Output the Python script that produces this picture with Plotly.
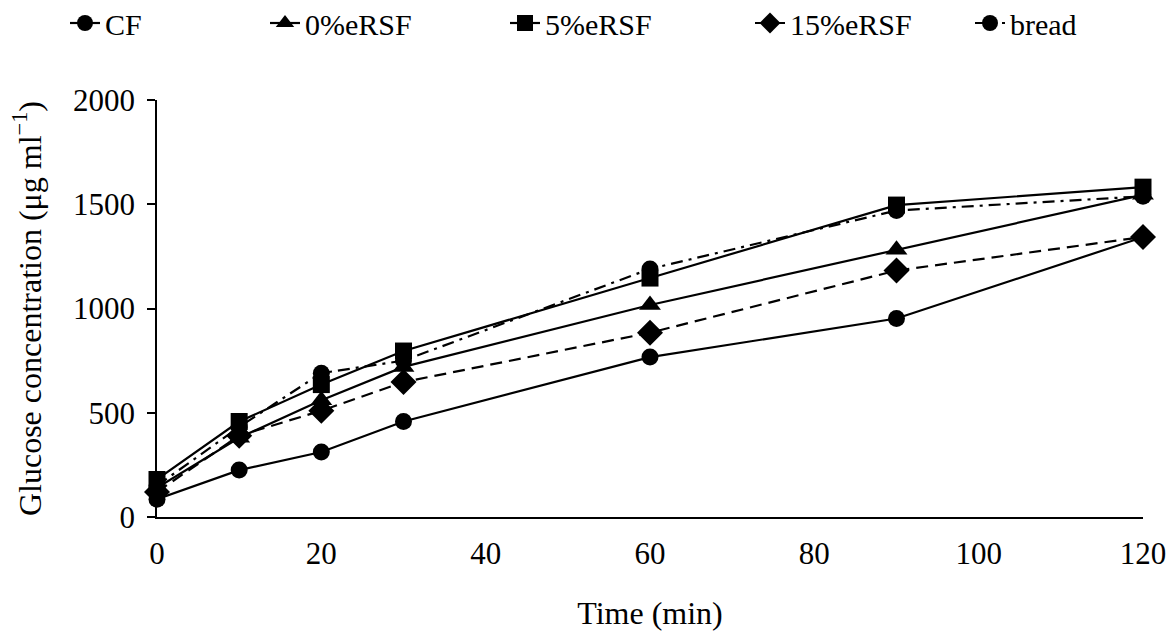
import plotly.graph_objects as go

time_min = [0, 10, 20, 30, 60, 90, 120]
cf = [85, 225, 312, 458, 767, 952, 1342]
ersf0 = [140, 380, 560, 720, 1017, 1282, 1545]
ersf5 = [180, 458, 635, 796, 1146, 1496, 1582]
ersf15 = [120, 390, 510, 647, 884, 1182, 1343]
bread = [150, 432, 690, 750, 1190, 1470, 1538]

x_ticks = [0, 20, 40, 60, 80, 100, 120]
y_ticks = [0, 500, 1000, 1500, 2000]

FONT = "Liberation Serif, Times New Roman, serif"
FS = 31
black = "#000000"

L, R, T, B = 157, 31, 100, 120
PW = 1174 - L - R
PH = 637 - T - B

# name, values, symbol, dash, marker size, legend text start (px)
series = [
    ("CF", cf, "circle", "solid", 17, 105),
    ("0%eRSF", ersf0, "triangle-up", "solid", 19, 305),
    ("5%eRSF", ersf5, "square", "solid", 17, 545),
    ("15%eRSF", ersf15, "diamond", "12px,7px", 20, 790),
    ("bread", bread, "circle", "12px,6px,3px,6px", 17, 1010),
]

fig = go.Figure()
legend_layout = {}
for i, (name, vals, sym, dash, size, tx) in enumerate(series):
    lname = "legend" if i == 0 else f"legend{i+1}"
    fig.add_trace(go.Scatter(
        x=time_min, y=vals, name=name, mode="lines+markers",
        line=dict(color=black, width=2.2, dash=dash),
        marker=dict(symbol=sym, size=size, color=black),
        cliponaxis=False, legend=lname,
    ))
    legend_layout[lname] = dict(
        x=(tx - 40 - L) / PW, xanchor="left",
        y=1 + (T - 23) / PH, yanchor="middle",
        orientation="h", bgcolor="rgba(0,0,0,0)", borderwidth=0,
        font=dict(family=FONT, size=FS - 1, color=black),
    )

fig.update_layout(
    width=1174, height=637,
    paper_bgcolor="white", plot_bgcolor="white",
    margin=dict(l=L, r=R, t=T, b=B, autoexpand=False),
    font=dict(family=FONT, size=FS, color=black),
    showlegend=True,
    **legend_layout,
    xaxis=dict(
        range=[0, 120], tickvals=x_ticks, ticktext=[str(v) for v in x_ticks],
        showgrid=False, zeroline=False, showline=True, linecolor=black, linewidth=1.5,
        ticks="", ticklabelstandoff=8, tickfont=dict(family=FONT, size=FS, color=black),
        title=dict(text="Time (min)", font=dict(family=FONT, size=FS + 1, color=black), standoff=32),
    ),
    yaxis=dict(
        range=[0, 2000], tickvals=y_ticks, ticktext=[str(v) for v in y_ticks],
        showgrid=False, zeroline=False, showline=True, linecolor=black, linewidth=1.5,
        ticks="outside", ticklen=8, tickwidth=1.5, tickcolor=black, ticklabelstandoff=6,
        tickfont=dict(family=FONT, size=FS, color=black),
        title=dict(text="Glucose concentration (μg ml<sup>−1</sup>)",
                   font=dict(family=FONT, size=FS + 1, color=black), standoff=22),
    ),
)

fig.write_html("out.html", config={"displayModeBar": False},
               post_script="document.body.style.margin='0px';")
